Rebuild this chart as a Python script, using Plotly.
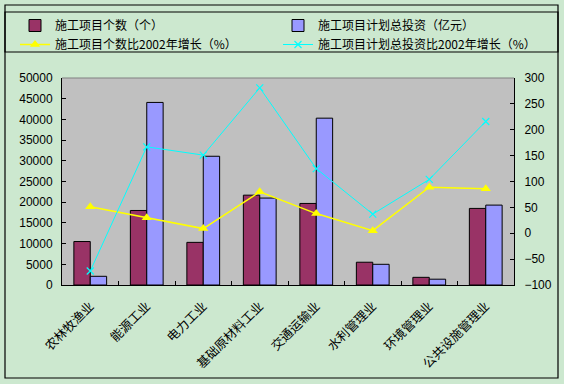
import plotly.graph_objects as go

categories = ["农林牧渔业", "能源工业", "电力工业", "基础原材料工业",
              "交通运输业", "水利管理业", "环境管理业", "公共设施管理业"]
project_count = [10500, 18000, 10300, 21700, 19700, 5500, 1850, 18500]
planned_investment = [2100, 44100, 31100, 21000, 40300, 5000, 1400, 19300]
count_growth = [51, 30, 9, 80, 38, 5, 89, 86]
investment_growth = [-73, 167, 151, 281, 125, 37, 104, 216]

names = ["施工项目个数（个）", "施工项目计划总投资（亿元）",
         "施工项目个数比2002年增长（%）", "施工项目计划总投资比2002年增长（%）"]

W, H = 564, 384
ML, MR, MT, MB = 62, 50, 78, 99
PW, PH = W - ML - MR, H - MT - MB

def px(x):
    return (x - ML) / PW

def py(y):
    return (H - MB - y) / PH

cjk = "Noto Sans CJK SC"
num = "Liberation Sans, Arial"

fig = go.Figure()
fig.add_trace(go.Bar(x=categories, y=project_count, name=names[0], legend="legend",
                     marker=dict(color="#993366", line=dict(color="black", width=1))))
fig.add_trace(go.Bar(x=categories, y=planned_investment, name=names[1], legend="legend2",
                     marker=dict(color="#9999FF", line=dict(color="black", width=1))))
fig.add_trace(go.Scatter(x=categories, y=count_growth, name=names[2], yaxis="y2",
                         legend="legend", mode="lines+markers",
                         line=dict(color="#FFFF00", width=1.5),
                         marker=dict(symbol="triangle-up", size=9, color="#FFFF00")))
fig.add_trace(go.Scatter(x=categories, y=investment_growth, name=names[3], yaxis="y2",
                         legend="legend2", mode="lines+markers",
                         line=dict(color="#00FFFF", width=1),
                         marker=dict(symbol="x-thin", size=7,
                                     line=dict(color="#00FFFF", width=1.2))))

shapes = [
    dict(type="rect", xref="paper", yref="paper",
         x0=px(5), x1=px(558), y0=py(378), y1=py(5),
         line=dict(color="black", width=1.2), layer="below"),
    dict(type="rect", xref="paper", yref="paper",
         x0=px(5), x1=px(558), y0=py(52), y1=py(12),
         line=dict(color="black", width=1.2), layer="below"),
    dict(type="line", xref="paper", yref="paper",
         x0=0, x1=1, y0=1, y1=1, line=dict(color="#808080", width=1)),
]

legend_common = dict(orientation="v", xref="container", yref="container",
                     xanchor="left", yanchor="top", bgcolor="rgba(0,0,0,0)",
                     font=dict(family=cjk, size=12), itemwidth=30,
                     tracegroupgap=0, traceorder="normal")

fig.update_layout(
    width=W, height=H,
    margin=dict(l=ML, r=MR, t=MT, b=MB, autoexpand=False),
    paper_bgcolor="#CCE8CF",
    plot_bgcolor="#C0C0C0",
    barmode="group", bargap=0.42, bargroupgap=0,
    font=dict(family=cjk, size=12, color="black"),
    showlegend=True,
    legend=dict(x=15 / W, y=1 - 11 / H, **legend_common),
    legend2=dict(x=278 / W, y=1 - 11 / H, **legend_common),
    xaxis=dict(type="category", tickangle=-45, showline=True, linecolor="black",
               linewidth=1, ticks="inside", tickson="boundaries", ticklen=4,
               tickcolor="black", showgrid=False, ticklabelstandoff=8,
               tickfont=dict(family=cjk, size=12.5)),
    yaxis=dict(range=[0, 50000], dtick=5000, tickformat="d", showline=True,
               linecolor="black", linewidth=1, ticks="inside", ticklen=4,
               tickcolor="black", showgrid=False, zeroline=False,
               ticklabelstandoff=6, tickfont=dict(family=num, size=12)),
    yaxis2=dict(range=[-100, 300], dtick=50, overlaying="y", side="right",
                showline=True, linecolor="black", linewidth=1, ticks="inside",
                ticklen=4, tickcolor="black", showgrid=False, zeroline=False,
                ticklabelstandoff=7, tickfont=dict(family=num, size=12)),
    shapes=shapes,
)

fig.write_html("out.html", config={"displayModeBar": False},
               post_script="document.body.style.margin='0';")
